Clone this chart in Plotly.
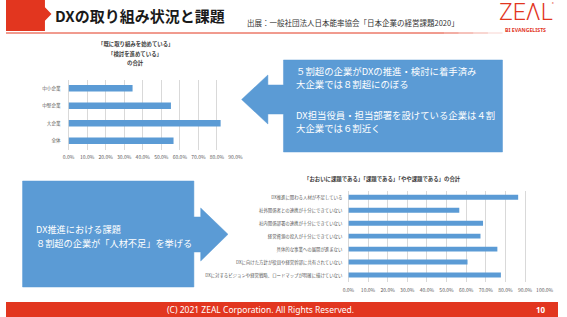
import plotly.graph_objects as go

W, H = 567, 317
FONT = "Noto Sans CJK JP"
BLUE = "#5B9BD5"
RED = "#E2361F"
GRID = "#D9D9D9"
TICK = "#595959"

# ---- data ----
top_categories = ["中小企業", "中堅企業", "大企業", "全体"]
top_values = [0.345, 0.552, 0.82, 0.566]
top_ticks = [0.0, 0.1, 0.2, 0.3, 0.4, 0.5, 0.6, 0.7, 0.8, 0.9]
top_title = ["「既に取り組みを始めている」", "「検討を進めている」", "の合計"]

bottom_categories = [
    "DX推進に関わる人材が不足している",
    "社外関係者との連携が十分にできていない",
    "社内関係部署の連携が十分にできていない",
    "経営資源の投入が十分にできていない",
    "具体的な事業への展開が進まない",
    "DXに向けた方針が役員や経営幹部に共有されていない",
    "DXに対するビジョンや経営戦略、ロードマップが明確に描けていない",
]
bottom_values = [0.865, 0.565, 0.686, 0.673, 0.759, 0.607, 0.777]
bottom_ticks = [0.0, 0.1, 0.2, 0.3, 0.4, 0.5, 0.6, 0.7, 0.8, 0.9, 1.0]
bottom_title = "「おおいに課題である」「課題である」「やや課題である」の合計"

callout_top = ["５割超の企業がDXの推進・検討に着手済み", "大企業では８割超にのぼる",
               "DX担当役員・担当部署を設けている企業は４割", "大企業では６割近く"]
callout_bottom = ["DX推進における課題", "８割超の企業が「人材不足」を挙げる"]


def px(x):
    return x / W


def py(y):
    return 1 - y / H


def path(points):
    return "M " + " L ".join(f"{px(a):.5f},{py(b):.5f}" for a, b in points) + " Z"


fig = go.Figure()
fig.add_trace(go.Bar(y=top_categories, x=top_values, orientation="h",
                     marker=dict(color=BLUE, line=dict(width=0)), width=0.36,
                     xaxis="x", yaxis="y", hoverinfo="skip"))
fig.add_trace(go.Bar(y=bottom_categories, x=bottom_values, orientation="h",
                     marker=dict(color=BLUE, line=dict(width=0)), width=0.38,
                     xaxis="x2", yaxis="y2", hoverinfo="skip"))

axis_common = dict(showgrid=True, gridcolor=GRID, gridwidth=0.8, zeroline=True,
                   zerolinecolor=GRID, zerolinewidth=0.8, showline=False,
                   tickformat=".1%", fixedrange=True)

fig.update_layout(
    width=W, height=H, margin=dict(l=0, r=0, t=0, b=0),
    paper_bgcolor="white", plot_bgcolor="white", showlegend=False,
    font=dict(family=FONT, color=TICK),
    xaxis=dict(domain=[px(64.3), px(235.7)], range=[0, 0.9], tickvals=top_ticks,
               anchor="y", tickfont=dict(size=5, color=TICK), ticklabelstandoff=3,
               **axis_common),
    yaxis=dict(domain=[py(149.5), py(79.5)], anchor="x", autorange="reversed",
               tickfont=dict(size=4.6, color=TICK), ticklabelstandoff=7,
               showgrid=False, fixedrange=True),
    xaxis2=dict(domain=[px(351.7), px(553.3)], range=[0, 1.0], tickvals=bottom_ticks,
                anchor="y2", tickfont=dict(size=5, color=TICK), ticklabelstandoff=4,
                **axis_common),
    yaxis2=dict(domain=[py(281.5), py(190.8)], anchor="x2", autorange="reversed",
                tickfont=dict(size=4.4, color=TICK), ticklabelstandoff=5,
                showgrid=False, fixedrange=True),
)

shapes = []
# header red block with arrow
shapes.append(dict(type="path", xref="paper", yref="paper", line=dict(width=0), fillcolor=RED,
                   path=path([(0, 0), (40, 0), (40, 7.3), (46.7, 14), (40, 20.7), (40, 31), (0, 31)])))
# header underline, fading to the right
shapes.append(dict(type="line", xref="paper", yref="paper", x0=0, x1=px(450), y0=py(33), y1=py(33),
                   line=dict(color=RED, width=1)))
for i, op in enumerate([0.8, 0.6, 0.4, 0.2]):
    shapes.append(dict(type="line", xref="paper", yref="paper", x0=px(450 + i * 15), x1=px(465 + i * 15),
                       y0=py(33), y1=py(33), line=dict(color=RED, width=1), opacity=op))
# footer bar
shapes.append(dict(type="rect", xref="paper", yref="paper", x0=0, x1=1, y0=0, y1=py(302),
                   line=dict(width=0), fillcolor=RED))
# left-pointing callout
shapes.append(dict(type="path", xref="paper", yref="paper", line=dict(color=BLUE, width=0.5), fillcolor=BLUE,
                   path=path([(285, 60), (510, 60), (510, 152), (285, 152), (285, 114), (269, 114),
                              (269, 124), (242, 99.5), (269, 75), (269, 85), (285, 85)])))
# right-pointing callout
shapes.append(dict(type="path", xref="paper", yref="paper", line=dict(color=BLUE, width=0.5), fillcolor=BLUE,
                   path=path([(17, 181), (193, 181), (193, 217), (200, 217), (200, 208), (228, 234.3),
                              (200, 261), (200, 252), (193, 252), (193, 287), (17, 287)])))
fig.update_layout(shapes=shapes)

ann = []


def text(x, y, s, size, color, xanchor="left", bold=False, family=FONT, weight=None):
    f = dict(size=size, color=color, family=family)
    if weight is not None:
        f["weight"] = weight
    ann.append(dict(x=px(x), y=py(y), xref="paper", yref="paper", text=f"<b>{s}</b>" if bold else s,
                    showarrow=False, xanchor=xanchor, yanchor="middle", font=f))


text(48, 15, "DXの取り組み状況と課題", 15, "#1a1a1a", bold=True)
text(245, 22, "出展：一般社団法人日本能率協会「日本企業の経営課題2020」", 7.5, "#333333")
text(534, 12.5, "ZEΛL", 23, RED, xanchor="center", family="Roboto", weight=300)
text(562, 3, "®", 3.5, RED, xanchor="center")
text(534, 30, "BI EVANGELISTS", 5.2, RED, xanchor="center", bold=True, family="Noto Sans")

for i, (s, y) in enumerate(zip(top_title, [43.5, 53.5, 63])):
    text(133, y, s, 5.4, "#404040", xanchor="center", bold=True)
text(387, 179, bottom_title, 5.4, "#404040", xanchor="center", bold=True)

for s, y in zip(callout_top, [71, 84, 115, 128.5]):
    text(296, y, s, 9.4, "white")
for s, y in zip(callout_bottom, [228.5, 243]):
    text(29, y, s, 9.2, "white")

text(261, 309.5, "(C) 2021 ZEAL Corporation. All Rights Reserved.", 8.5, "white", xanchor="center", family="Noto Sans")
text(550, 309, "10", 8, "white", xanchor="center", bold=True, family="Noto Sans")

fig.update_layout(annotations=ann)
fig.write_html("out.html")
